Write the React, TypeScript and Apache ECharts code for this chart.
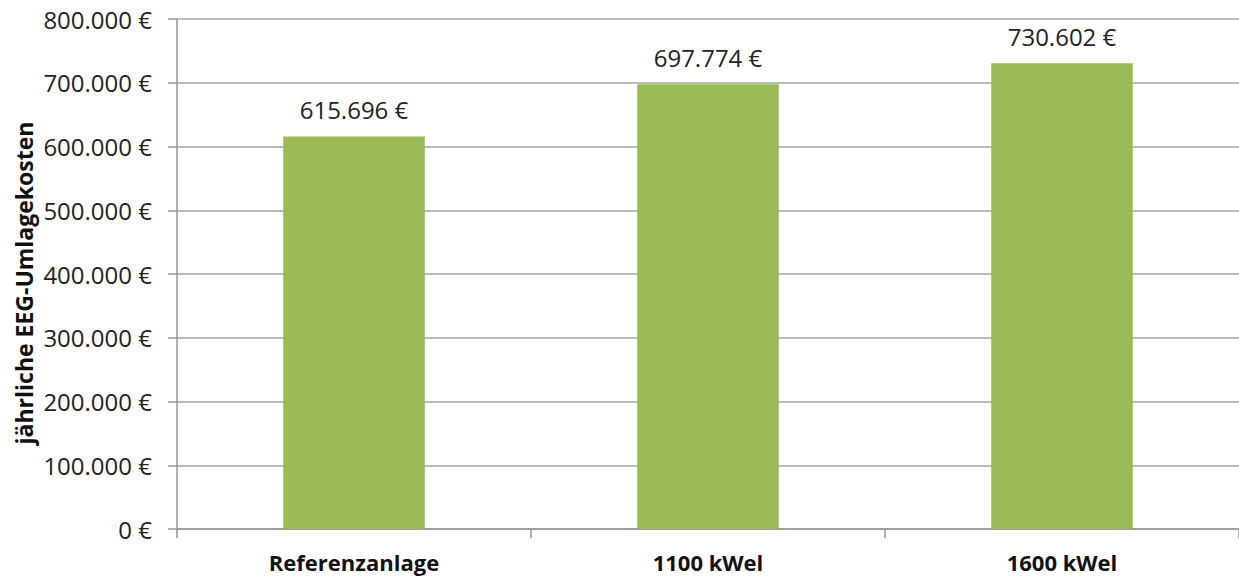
import React, { useEffect, useRef } from "react";
import * as echarts from "echarts";

const categories = ["Referenzanlage", "1100 kWel", "1600 kWel"];
const costs = [615696, 697774, 730602];
const yTitle = "jährliche EEG-Umlagekosten";
const yMin = 0;
const yMax = 800000;
const yStep = 100000;

const FONT = "'Open Sans', 'Noto Sans', sans-serif";

const euro = (v: number) =>
  Math.round(v).toString().replace(/\B(?=(\d{3})+(?!\d))/g, ".") + " €";

export default function App() {
  const ref = useRef<HTMLDivElement>(null);

  useEffect(() => {
    if (!ref.current) return;
    const chart = echarts.init(ref.current, undefined, { renderer: "svg" });
    chart.setOption({
      animation: false,
      backgroundColor: "#ffffff",
      textStyle: { fontFamily: FONT },
      grid: { left: 177, right: 0, top: 19, bottom: 48, containLabel: false },
      xAxis: {
        type: "category",
        data: categories,
        axisLine: { show: true, lineStyle: { color: "#969696", width: 1.5 } },
        axisTick: {
          show: true,
          alignWithLabel: false,
          length: 9,
          lineStyle: { color: "#969696", width: 1.5 },
        },
        axisLabel: {
          fontFamily: FONT,
          fontSize: 22,
          fontWeight: "bold",
          color: "#111111",
          margin: 22,
        },
      },
      yAxis: {
        type: "value",
        min: yMin,
        max: yMax,
        interval: yStep,
        axisLine: { show: true, lineStyle: { color: "#969696", width: 1.5 } },
        axisTick: {
          show: true,
          length: 9,
          lineStyle: { color: "#969696", width: 1.5 },
        },
        splitLine: { show: true, lineStyle: { color: "#a6a6a6", width: 1.5 } },
        axisLabel: {
          fontFamily: FONT,
          fontSize: 24,
          color: "#222222",
          margin: 25,
          formatter: (v: number) => euro(v),
        },
      },
      graphic: [
        {
          type: "text",
          x: 24,
          y: 283,
          rotation: Math.PI / 2,
          style: {
            text: yTitle,
            fontFamily: FONT,
            fontSize: 23,
            fontWeight: "bold",
            fill: "#111111",
            align: "center",
            verticalAlign: "middle",
          },
        },
      ],
      series: [
        {
          type: "bar",
          data: costs,
          barWidth: "40%",
          itemStyle: { color: "#9bbb59" },
          label: {
            show: true,
            position: "top",
            distance: 15,
            fontFamily: FONT,
            fontSize: 24,
            color: "#222222",
            formatter: (p: any) => euro(p.value),
          },
        },
      ],
    });
    return () => chart.dispose();
  }, []);

  return (
    <div
      ref={ref}
      style={{ position: "fixed", left: 0, top: 0, width: 1239, height: 577 }}
    />
  );
}
